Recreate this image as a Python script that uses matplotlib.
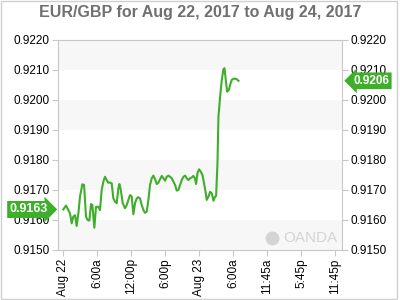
import numpy as np
import matplotlib
matplotlib.use("Agg")
import matplotlib.pyplot as plt
import matplotlib.transforms as mtransforms
from matplotlib.patches import Rectangle

plt.rcParams['font.family'] = ['Liberation Sans', 'DejaVu Sans']

# hours since Aug 22 00:00 and EUR/GBP rate
hours = [0.06, 0.53, 0.94, 1.24, 1.53, 1.82, 2.12, 2.41, 2.71, 3.00,
         3.41, 3.71, 4.06, 4.35, 4.65, 4.94, 5.18, 5.53, 5.82, 6.24,
         6.53, 6.82, 7.12, 7.41, 7.71, 8.00, 8.29, 8.59, 8.88, 9.18,
         9.47, 9.77, 9.94, 10.18, 10.53, 10.94, 11.24, 11.53, 11.82, 12.12,
         12.41, 12.71, 13.00, 13.29, 13.59, 13.88, 14.18, 14.47, 14.77, 15.06,
         15.35, 15.65, 15.94, 16.24, 16.53, 16.82, 17.12, 17.41, 17.71, 18.00,
         18.29, 18.59, 18.88, 19.18, 19.47, 19.76, 20.06, 20.35, 20.65, 20.94,
         21.24, 21.53, 21.82, 22.12, 22.41, 22.71, 23.00, 23.29, 23.47, 23.71,
         24.00, 24.29, 24.59, 24.88, 25.18, 25.35, 25.65, 25.94, 26.24, 26.53,
         26.82, 27.00, 27.24, 27.41, 27.71, 28.00, 28.29, 28.47, 28.71, 28.94,
         29.24, 29.47, 29.76, 30.06, 30.35, 30.65, 30.94]
rates = [0.91635, 0.91648, 0.91633, 0.91622, 0.91589, 0.91611, 0.91616, 0.91580, 0.91622, 0.91678,
         0.91719, 0.91717, 0.91611, 0.91600, 0.91598, 0.91653, 0.91650, 0.91574, 0.91644, 0.91644,
         0.91633, 0.91700, 0.91728, 0.91744, 0.91733, 0.91724, 0.91725, 0.91722, 0.91672, 0.91661,
         0.91656, 0.91706, 0.91720, 0.91702, 0.91656, 0.91639, 0.91650, 0.91667, 0.91683, 0.91678,
         0.91619, 0.91656, 0.91672, 0.91676, 0.91672, 0.91650, 0.91633, 0.91624, 0.91628, 0.91667,
         0.91717, 0.91739, 0.91748, 0.91736, 0.91720, 0.91724, 0.91736, 0.91747, 0.91739, 0.91731,
         0.91744, 0.91748, 0.91744, 0.91739, 0.91728, 0.91717, 0.91698, 0.91700, 0.91717, 0.91733,
         0.91744, 0.91748, 0.91739, 0.91733, 0.91739, 0.91742, 0.91747, 0.91737, 0.91720, 0.91756,
         0.91769, 0.91761, 0.91750, 0.91722, 0.91689, 0.91667, 0.91678, 0.91694, 0.91689, 0.91664,
         0.91678, 0.91680, 0.91789, 0.91944, 0.92011, 0.92067, 0.92102, 0.92106, 0.92067, 0.92028,
         0.92033, 0.92050, 0.92067, 0.92071, 0.92071, 0.92069, 0.92064]

xtick_pos = [0, 6, 12, 18, 24, 30, 36, 42, 48]
xtick_labels = ["Aug 22", "6:00a", "12:00p", "6:00p", "Aug 23", "6:00a", "11:45a", "5:45p", "11:45p"]
yticks = [0.9150, 0.9160, 0.9170, 0.9180, 0.9190, 0.9200, 0.9210, 0.9220]

green = '#3fae2a'
edge = '#c8c8c8'

fig = plt.figure(figsize=(4, 3), dpi=100)
# light frame round the whole picture
fig.patches.append(Rectangle((0.002, 0.004), 0.99, 0.994, transform=fig.transFigure,
                             fill=False, ec='#d0d0d0', lw=1))

ax = fig.add_axes([0.145, 0.1667, 0.71, 0.70])
ax.set_xlim(-0.88, 49.2)
ax.set_ylim(0.9150, 0.9220)

# alternating horizontal bands
for i in range(len(yticks) - 1):
    if i % 2 == 0:
        ax.axhspan(yticks[i], yticks[i + 1], color='#f7f7f7', lw=0, zorder=0)

ax.plot(hours, rates, color=green, lw=1.5, zorder=3)

ax.set_xticks(xtick_pos)
ax.set_xticklabels(xtick_labels, rotation=90, fontsize=8.5)
ax.set_yticks(yticks)
ax.set_yticklabels([f"{v:.4f}" for v in yticks], fontsize=8.5)
ax.tick_params(axis='y', which='both', left=True, right=True, labelleft=True, labelright=True,
               length=4, color=edge, pad=2)
ax.tick_params(axis='x', length=4, color=edge, pad=2)
for s in ax.spines.values():
    s.set_color(edge)

fig.text(0.5, 0.958, "EUR/GBP for Aug 22, 2017 to Aug 24, 2017", ha='center', va='center',
         fontsize=11.5, fontweight='bold', color='#707070')

# first / last value tags
trans = mtransforms.blended_transform_factory(ax.transAxes, ax.transData)
ax.text(-0.035, rates[0], f"{rates[0]:.4f}", transform=trans, ha='right', va='center',
        fontsize=9, fontweight='bold', color='white', zorder=5, clip_on=False,
        bbox=dict(boxstyle='rarrow,pad=0.2', fc=green, ec='none'))
ax.text(1.04, rates[-1], f"{rates[-1]:.4f}", transform=trans, ha='left', va='center',
        fontsize=8.5, fontweight='bold', color='white', zorder=5, clip_on=False,
        bbox=dict(boxstyle='larrow,pad=0.2', fc=green, ec='none'))

# watermark
ax.text(0.985, 0.055, "OANDA", transform=ax.transAxes, ha='right', va='center',
        fontsize=11, color='#d4d4d4', zorder=1)
ax.plot([0.755], [0.055], transform=ax.transAxes, marker='o', ms=9, color='#d4d4d4', zorder=1)

fig.savefig("out.png", dpi=100)
